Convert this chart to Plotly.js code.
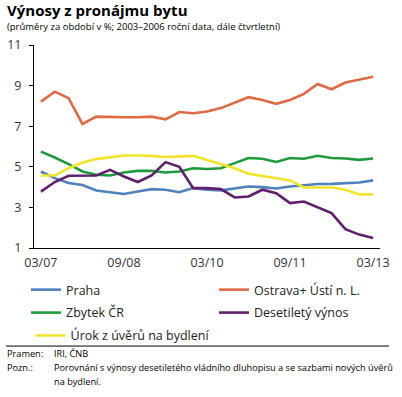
<!DOCTYPE html>
<html><head><meta charset="utf-8">
<script src="https://cdn.plot.ly/plotly-3.0.1.min.js"></script>
<style>html,body{margin:0;padding:0;background:#fff}#c{width:402px;height:397px}</style>
</head><body><div id="c"></div>
<script>
const quarters = ["03/07","06/07","09/07","12/07","03/08","06/08","09/08","12/08","03/09","06/09","09/09","12/09","03/10","06/10","09/10","12/10","03/11","06/11","09/11","12/11","03/12","06/12","09/12","12/12","03/13"];
const tickLabels = ["03/07","09/08","03/10","09/11","03/13"];
const praha   = [4.77,4.44,4.20,4.10,3.83,3.75,3.66,3.78,3.90,3.87,3.75,3.95,3.87,3.84,3.95,4.03,4.00,3.93,4.03,4.08,4.15,4.16,4.20,4.23,4.33];
const ostrava = [8.21,8.70,8.38,7.11,7.47,7.44,7.44,7.44,7.47,7.34,7.70,7.64,7.72,7.89,8.16,8.43,8.29,8.10,8.29,8.59,9.08,8.82,9.15,9.28,9.44];
const zbytek  = [5.75,5.46,5.13,4.77,4.61,4.57,4.72,4.80,4.80,4.72,4.77,4.93,4.89,4.93,5.18,5.43,5.40,5.24,5.43,5.40,5.54,5.43,5.41,5.34,5.41];
const vynos10 = [3.78,4.25,4.56,4.57,4.57,4.85,4.52,4.25,4.57,5.23,5.00,3.95,3.95,3.90,3.49,3.54,3.87,3.70,3.21,3.29,3.00,2.72,1.93,1.66,1.49];
const urok    = [4.57,4.57,4.93,5.21,5.38,5.48,5.56,5.56,5.54,5.48,5.51,5.54,5.34,5.15,4.93,4.66,4.56,4.44,4.33,3.98,3.98,3.98,3.87,3.64,3.64];
const names = ["Praha","Ostrava+ Ústí n. L.","Zbytek ČR","Desetiletý výnos","Úrok z úvěrů na bydlení"];
const colors = ["#4f81bd","#de6a45","#1e9a3c","#5f1f6c","#f2e32a"];
const series = [praha, ostrava, zbytek, vynos10, urok];
const legendIds = ["legend","legend","legend2","legend2","legend3"];

const traces = series.map((s,i)=>({
  x: quarters, y: s, type:'scatter', mode:'lines', name:names[i], legend:legendIds[i],
  line:{color:colors[i], width:2.6}
}));

const font = "Open Sans, Noto Sans, sans-serif";
function leg(y, x){
  return {orientation:'h', x:x, xanchor:'left', y:y, yanchor:'middle',
    entrywidth:143, font:{size:12.5, color:'#222'}, bgcolor:'rgba(0,0,0,0)'};
}
const layout = {
  width:402, height:397,
  margin:{l:34, r:22, t:45, b:149},
  paper_bgcolor:'#fff', plot_bgcolor:'#fff',
  font:{family:font, color:'#333', size:12},
  showlegend:true,
  legend:leg(-0.207, -0.003), legend2:leg(-0.320, -0.003), legend3:leg(-0.433, -0.010),
  xaxis:{type:'category', range:[-0.5,24.5], tickvals:tickLabels, ticktext:tickLabels,
    showgrid:false, zeroline:false, showline:true, linecolor:'#000', linewidth:1,
    ticks:'', ticklen:0, ticklabelstandoff:3, tickfont:{size:12.5, color:'#333'}},
  yaxis:{range:[1,11], dtick:2, tick0:1, showgrid:false, zeroline:false,
    showline:true, linecolor:'#000', linewidth:1, ticks:'outside', ticklen:4, tickcolor:'#000',
    ticklabelstandoff:5, tickfont:{size:12.5, color:'#333'}},
  shapes:[{type:'line', xref:'paper', yref:'paper', x0:-0.081, x1:1.026, y0:-0.483, y1:-0.483,
    line:{color:'#000', width:1}}],
  annotations:[
    {xref:'paper', yref:'paper', x:-0.083, y:1.170, xanchor:'left', yanchor:'middle', showarrow:false,
     text:'<b>Výnosy z pronájmu bytu</b>', font:{size:15, color:'#000', family:font}},
    {xref:'paper', yref:'paper', x:-0.083, y:1.090, xanchor:'left', yanchor:'middle', showarrow:false,
     text:'(průměry za období v %; 2003–2006 roční data, dále čtvrtletní)', font:{size:9.5, color:'#000', family:font}},
    {xref:'paper', yref:'paper', x:-0.083, y:-0.522, xanchor:'left', yanchor:'middle', showarrow:false,
     text:'Pramen:', font:{size:9.2, color:'#000', family:font}},
    {xref:'paper', yref:'paper', x:0.052, y:-0.522, xanchor:'left', yanchor:'middle', showarrow:false,
     text:'IRI, ČNB', font:{size:9.2, color:'#000', family:font}},
    {xref:'paper', yref:'paper', x:-0.083, y:-0.591, xanchor:'left', yanchor:'middle', showarrow:false,
     text:'Pozn.:', font:{size:9.2, color:'#000', family:font}},
    {xref:'paper', yref:'paper', x:0.052, y:-0.591, xanchor:'left', yanchor:'middle', showarrow:false,
     text:'Porovnání s výnosy desetiletého vládního dluhopisu a se sazbami nových úvěrů', font:{size:9.2, color:'#000', family:font}},
    {xref:'paper', yref:'paper', x:0.052, y:-0.660, xanchor:'left', yanchor:'middle', showarrow:false,
     text:'na bydlení.', font:{size:9.2, color:'#000', family:font}}
  ]
};
Plotly.newPlot('c', traces, layout, {displayModeBar:false, staticPlot:true});
</script></body></html>
